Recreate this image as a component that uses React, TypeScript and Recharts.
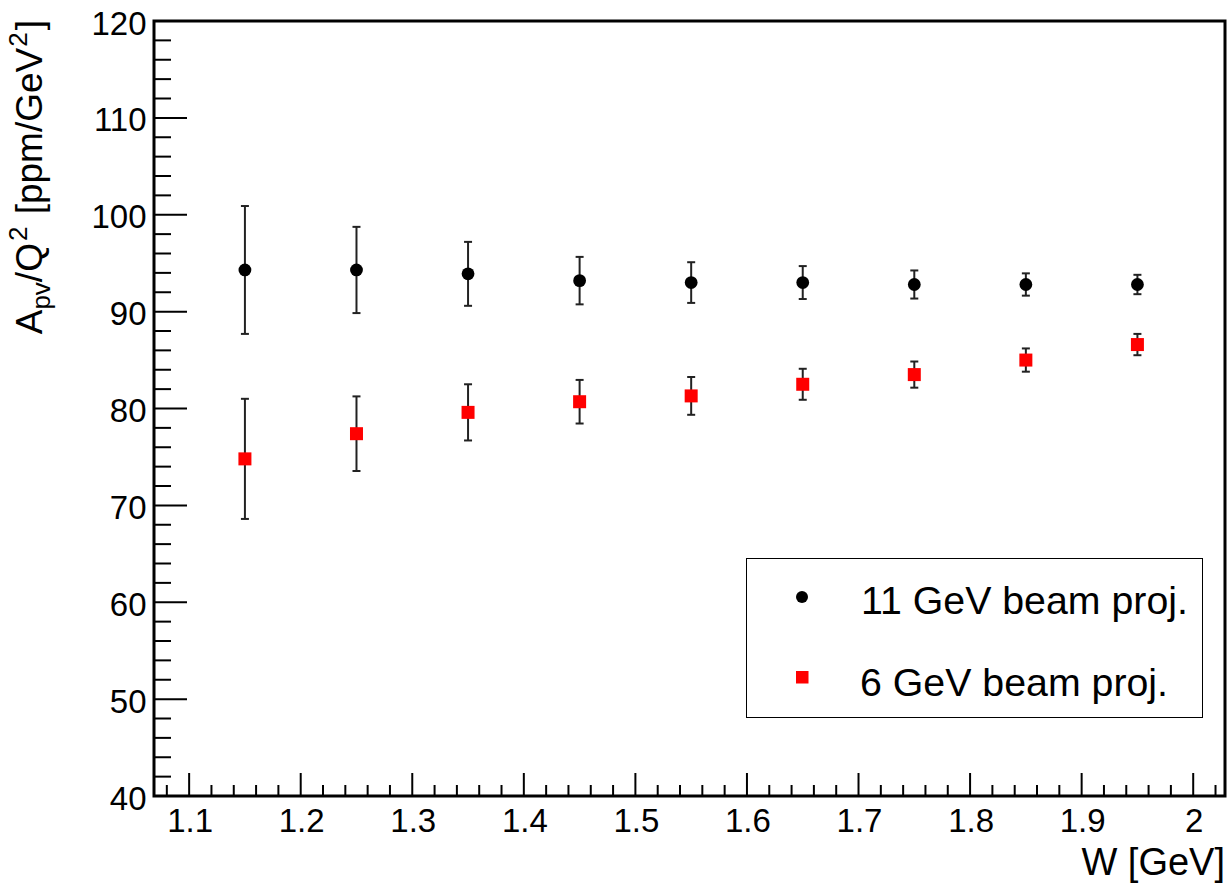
import React from 'react';
import { ScatterChart, Scatter, XAxis, YAxis, ErrorBar, ReferenceArea, Legend } from 'recharts';

// ---- data ----
const W_VALUES = [1.15, 1.25, 1.35, 1.45, 1.55, 1.65, 1.75, 1.85, 1.95];
const BEAM11_VALUES = [94.3, 94.3, 93.9, 93.2, 93.0, 93.0, 92.8, 92.8, 92.8];
const BEAM11_ERRORS = [6.6, 4.45, 3.3, 2.45, 2.1, 1.7, 1.45, 1.15, 1.0];
const BEAM6_VALUES = [74.8, 77.4, 79.6, 80.7, 81.3, 82.5, 83.5, 85.0, 86.6];
const BEAM6_ERRORS = [6.2, 3.85, 2.9, 2.25, 1.95, 1.6, 1.35, 1.2, 1.1];

const SERIES_NAMES = ['11 GeV beam proj.', '6 GeV beam proj.'];
const SERIES_COLORS = ['#000000', '#ff0000'];

const X_MAJOR_TICKS = [1.1, 1.2, 1.3, 1.4, 1.5, 1.6, 1.7, 1.8, 1.9, 2];
const Y_MAJOR_TICKS = [40, 50, 60, 70, 80, 90, 100, 110, 120];
const X_DOMAIN = [1.0685, 2.0285];
const Y_DOMAIN = [40, 120];

const X_ALL_TICKS: number[] = [];
for (let i = 54; i <= 101; i++) X_ALL_TICKS.push(Math.round(i * 2) / 100);
const Y_ALL_TICKS: number[] = [];
for (let v = 40; v <= 120; v += 2) Y_ALL_TICKS.push(v);

const beam11Data = W_VALUES.map((w, i) => ({ x: w, y: BEAM11_VALUES[i], err: BEAM11_ERRORS[i] }));
const beam6Data = W_VALUES.map((w, i) => ({ x: w, y: BEAM6_VALUES[i], err: BEAM6_ERRORS[i] }));

const FONT = '"Liberation Sans", Arial, Helvetica, sans-serif';

const isMajor = (v: number, majors: number[]) => majors.some((m) => Math.abs(m - v) < 1e-6);

const XTick = (props: any) => {
  const { x, y, payload } = props;
  const v = payload.value;
  const major = isMajor(v, X_MAJOR_TICKS);
  return (
    <g>
      <line x1={x} x2={x} y1={y} y2={y - (major ? 23 : 11)} stroke="#000" strokeWidth={2} />
      {major && (
        <text x={x + 1} y={y + 36} textAnchor="middle" fontSize={33} fontFamily={FONT} fill="#000">
          {String(v)}
        </text>
      )}
    </g>
  );
};

const YTick = (props: any) => {
  const { x, y, payload } = props;
  const v = payload.value;
  const major = isMajor(v, Y_MAJOR_TICKS);
  return (
    <g>
      <line x1={x} x2={x + (major ? 33 : 17)} y1={y} y2={y} stroke="#000" strokeWidth={2} />
      {major && (
        <text x={x - 7.5} y={y + 13.5} textAnchor="end" fontSize={33} fontFamily={FONT} fill="#000">
          {String(v)}
        </text>
      )}
    </g>
  );
};

const XTitle = (props: any) => {
  const vb = props.viewBox;
  return (
    <text x={vb.x + vb.width} y={vb.y + 79} textAnchor="end" fontSize={38} fontFamily={FONT} fill="#000">
      W [GeV]
    </text>
  );
};

const YTitle = () => {
  return (
    <text transform="translate(42, 20) rotate(-90)" x={0} y={0} textAnchor="end" fontSize={37} fontFamily={FONT} fill="#000">
      A
      <tspan dy={8} fontSize={26}>pv</tspan>
      <tspan dy={-8}>/Q</tspan>
      <tspan dy={-15} dx={2} fontSize={26}>2</tspan>
      <tspan dy={15} dx={2}> [ppm/GeV</tspan>
      <tspan dy={-15} dx={1} fontSize={26}>2</tspan>
      <tspan dy={15} dx={2}>]</tspan>
    </text>
  );
};

const Circle = (props: any) => <circle cx={props.cx} cy={props.cy} r={6.4} fill={SERIES_COLORS[0]} />;
const Square = (props: any) => (
  <rect x={props.cx - 6.5} y={props.cy - 6.5} width={13} height={13} fill={SERIES_COLORS[1]} />
);

const LegendBox = () => (
  <div
    style={{
      width: 457,
      height: 160,
      boxSizing: 'border-box',
      border: '1.5px solid #000',
      background: '#fff',
    }}
  >
    <svg width={454} height={157} style={{ display: 'block' }}>
      <circle cx={55} cy={38} r={6} fill={SERIES_COLORS[0]} />
      <text x={114} y={55} fontSize={39.3} fontFamily={FONT} fill="#000">{SERIES_NAMES[0]}</text>
      <rect x={49} y={112} width={12.5} height={12.5} fill={SERIES_COLORS[1]} />
      <text x={113} y={137} fontSize={39.3} fontFamily={FONT} fill="#000">{SERIES_NAMES[1]}</text>
    </svg>
  </div>
);

export default function App() {
  return (
    <div style={{ position: 'absolute', left: 0, top: 0, width: 1229, height: 883, background: '#fff' }}>
      <ScatterChart width={1229} height={883} margin={{ top: 21, right: 4, bottom: 0, left: 0 }}>
        <XAxis
          type="number"
          dataKey="x"
          domain={X_DOMAIN}
          ticks={X_ALL_TICKS}
          interval={0}
          allowDataOverflow
          height={87}
          axisLine={false}
          tickLine={false}
          tickSize={0}
          tickMargin={0}
          tick={<XTick />}
          label={<XTitle />}
        />
        <YAxis
          type="number"
          dataKey="y"
          domain={Y_DOMAIN}
          ticks={Y_ALL_TICKS}
          interval={0}
          allowDataOverflow
          width={154}
          axisLine={false}
          tickLine={false}
          tickSize={0}
          tickMargin={0}
          tick={<YTick />}
          label={<YTitle />}
        />
        <ReferenceArea
          x1={X_DOMAIN[0]}
          x2={X_DOMAIN[1]}
          y1={Y_DOMAIN[0]}
          y2={Y_DOMAIN[1]}
          fill="none"
          fillOpacity={0}
          stroke="#000"
          strokeWidth={3}
          ifOverflow="visible"
        />
        <Scatter name={SERIES_NAMES[0]} data={beam11Data} shape={<Circle />} isAnimationActive={false}>
          <ErrorBar dataKey="err" direction="y" width={4} stroke="#222" strokeWidth={2} />
        </Scatter>
        <Scatter name={SERIES_NAMES[1]} data={beam6Data} shape={<Square />} isAnimationActive={false}>
          <ErrorBar dataKey="err" direction="y" width={4} stroke="#222" strokeWidth={2} />
        </Scatter>
        <Legend
          layout="horizontal"
          verticalAlign="middle"
          align="center"
          content={<LegendBox />}
          wrapperStyle={{ position: 'absolute', left: 746, top: 558, width: 457, height: 160 }}
        />
      </ScatterChart>
    </div>
  );
}
